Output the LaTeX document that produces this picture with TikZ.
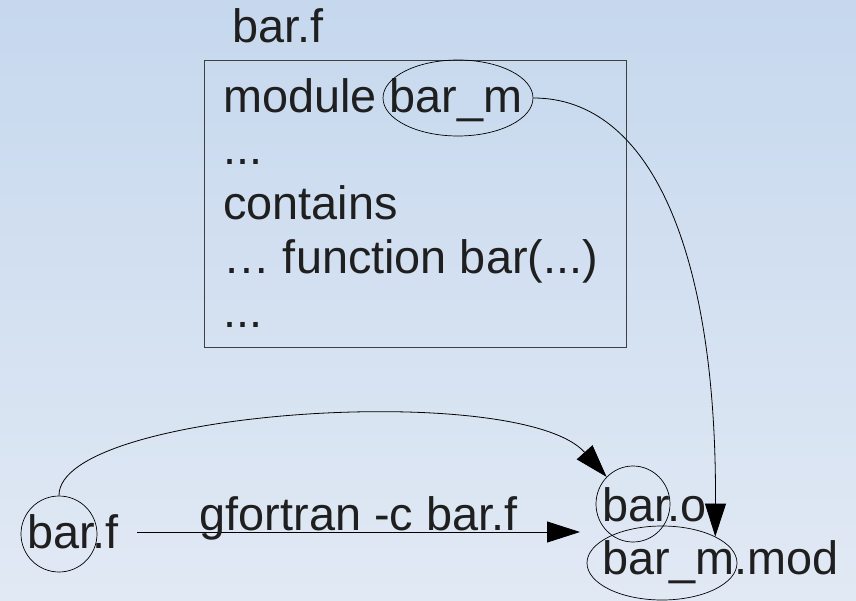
\documentclass[tikz,border=0pt]{standalone}
\usepackage{fontspec}
\setmainfont{Liberation Sans}
\usetikzlibrary{arrows.meta,shapes.geometric}
\definecolor{skytop}{RGB}{198,216,238}
\definecolor{skybot}{RGB}{225,233,244}

\begin{document}
\begin{tikzpicture}[x=1bp,y=-1bp,
  ring/.style={draw,ellipse,inner sep=0pt,line width=0.7bp},
  txt/.style={anchor=base west,inner sep=0pt,font=\fontsize{47}{54}\selectfont,text=black!88},
  link/.style={line width=0.8bp,-{Triangle[length=33bp,width=21bp]}}]
\shade[top color=skytop,bottom color=skybot] (0,0) rectangle (856,601);
\useasboundingbox (0,0) rectangle (856,601);
% the source file
\node[txt] (title) at (232,43) {bar.f};
\node[draw=black!75,line width=0.9bp,inner sep=0pt,anchor=north west,
  minimum width=422bp,minimum height=287bp] (srcbox) at (204,60) {};
\node[txt] (lmod) at (223,113) {module bar\_m};
\node[txt] (ldots) at (223,165) {...};
\node[txt] (lcont) at (223,220) {contains};
\node[txt] (lfunc) at (223,273) {… function bar(...)};
\node[txt] (lend) at (223,327) {...};
\node[ring,minimum width=150bp,minimum height=76bp] (modring) at (458,98) {};
% compiling
\node[txt] (srcname) at (27,548) {bar.f};
\node[ring,minimum width=76bp,minimum height=76bp] (fring) at (59,534) {};
\node[txt] (objname) at (602,521) {bar.o};
\node[ring,minimum width=74bp,minimum height=76bp] (oring) at (633,504) {};
\node[txt] (modname) at (602,574) {bar\_m.mod};
\node[ring,minimum width=150bp,minimum height=74bp] (mring) at (662,563) {};
\coordinate (cstart) at (137,532);
\coordinate (cend) at (580,532);
\draw[link] (cstart) -- node[txt,anchor=base,yshift=2bp] (cmd) {gfortran -c bar.f} (cend);
\draw[link] (fring.north) .. controls (58,410) and (520,380) .. (oring.north west);
\draw[link] (modring.east) .. controls (650,98) and (717,250) .. (mring.north east);
\end{tikzpicture}
\end{document}
